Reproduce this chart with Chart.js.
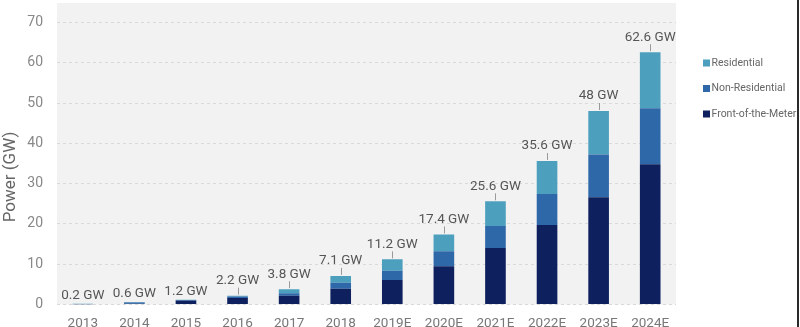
<!DOCTYPE html>
<html>
<head>
<meta charset="utf-8">
<script src="https://cdn.jsdelivr.net/npm/chart.js@4"></script>
<style>
  html, body { margin: 0; padding: 0; background: #fff; }
  #wrap { width: 797px; height: 327px; border-right: 2px solid #2a2a2a; }
</style>
</head>
<body>
<div id="wrap"><canvas id="myChart" width="797" height="327"></canvas></div>
<script>
let years = ['2013', '2014', '2015', '2016', '2017', '2018', '2019E', '2020E', '2021E', '2022E', '2023E', '2024E'];
let totals = [0.2, 0.6, 1.2, 2.2, 3.8, 7.1, 11.2, 17.4, 25.6, 35.6, 48, 62.6];
let frontOfMeterArr = [0.05, 0.2, 0.9, 1.6, 2.2, 3.9, 6.1, 9.5, 14.0, 19.7, 26.6, 34.8];
let nonResidentialArr = [0.1, 0.3, 0.2, 0.4, 0.6, 1.5, 2.3, 3.7, 5.5, 7.7, 10.6, 13.9];
let residentialArr = [0.05, 0.1, 0.1, 0.2, 1.0, 1.7, 2.8, 4.2, 6.1, 8.2, 10.8, 13.9];
let yTicks = [0, 10, 20, 30, 40, 50, 60, 70];

let fontName = "Roboto, 'Liberation Sans', sans-serif";

// gray plot background, total labels with leader lines, axis title and legend
let decorPlugin = {
  id: 'decor',
  beforeDraw: function(chart) {
    let ctx = chart.ctx;
    let area = chart.chartArea;
    ctx.save();
    ctx.fillStyle = '#f2f2f2';
    ctx.fillRect(area.left, 3, area.right - area.left, area.bottom - 3);
    ctx.restore();
  },
  afterDatasetsDraw: function(chart) {
    let ctx = chart.ctx;
    let topMeta = chart.getDatasetMeta(2);
    ctx.save();
    ctx.font = '13.5px ' + fontName;
    ctx.fillStyle = '#555';
    ctx.textAlign = 'center';
    ctx.textBaseline = 'middle';
    topMeta.data.forEach(function(bar, i) {
      let gap = totals[i] < 2 ? 8 : 15;
      if (gap > 10) {
        ctx.strokeStyle = '#9a9a9a';
        ctx.lineWidth = 1;
        ctx.beginPath();
        ctx.moveTo(Math.round(bar.x) + 0.5, bar.y - 1);
        ctx.lineTo(Math.round(bar.x) + 0.5, bar.y - gap + 7);
        ctx.stroke();
      }
      ctx.fillText(totals[i] + ' GW', bar.x, bar.y - gap);
    });

    // y axis title
    ctx.save();
    ctx.translate(11, 177);
    ctx.rotate(-Math.PI / 2);
    ctx.font = '17px ' + fontName;
    ctx.fillStyle = '#666';
    ctx.fillText('Power (GW)', 0, 0);
    ctx.restore();

    // legend, top series first
    let order = [2, 1, 0];
    ctx.font = '10.5px ' + fontName;
    ctx.textAlign = 'left';
    order.forEach(function(d, k) {
      let ds = chart.data.datasets[d];
      let y = 63 + k * 25.5;
      ctx.fillStyle = ds.backgroundColor;
      ctx.fillRect(703, y - 3.5, 7, 7);
      ctx.fillStyle = '#666';
      ctx.fillText(ds.label, 711.5, y);
    });
    ctx.restore();
  }
};

let canvasEl = document.getElementById('myChart').getContext('2d');
let myChart = new Chart(canvasEl, {
  type: 'bar',
  data: {
    labels: years,
    datasets: [{
      label: 'Front-of-the-Meter',
      data: frontOfMeterArr,
      backgroundColor: '#0e215e'
    }, {
      label: 'Non-Residential',
      data: nonResidentialArr,
      backgroundColor: '#2f68a8'
    }, {
      label: 'Residential',
      data: residentialArr,
      backgroundColor: '#4da0bd'
    }]
  },
  options: {
    responsive: false,
    animation: false,
    layout: {
      padding: { top: 6, right: 121, left: 0, bottom: 0 }
    },
    datasets: {
      bar: { barPercentage: 0.4, categoryPercentage: 1 }
    },
    plugins: {
      legend: { display: false },
      tooltip: { enabled: false }
    },
    scales: {
      x: {
        stacked: true,
        grid: { display: false },
        border: { display: false },
        ticks: {
          color: '#777',
          font: { family: fontName, size: 13.5 },
          padding: 3,
          maxRotation: 0,
          autoSkip: false
        },
        afterFit: function(scale) { scale.height = 22.5; }
      },
      y: {
        stacked: true,
        min: 0,
        max: 70,
        afterBuildTicks: function(scale) {
          scale.ticks = yTicks.map(function(v) { return { value: v }; });
        },
        grid: {
          color: '#d9d9d9',
          lineWidth: 1,
          drawTicks: false
        },
        border: { display: false, dash: [3, 3] },
        ticks: {
          color: '#888',
          font: { family: fontName, size: 14 },
          padding: 14
        },
        afterFit: function(scale) { scale.width = 57; }
      }
    }
  },
  plugins: [decorPlugin]
});
</script>
</body>
</html>
